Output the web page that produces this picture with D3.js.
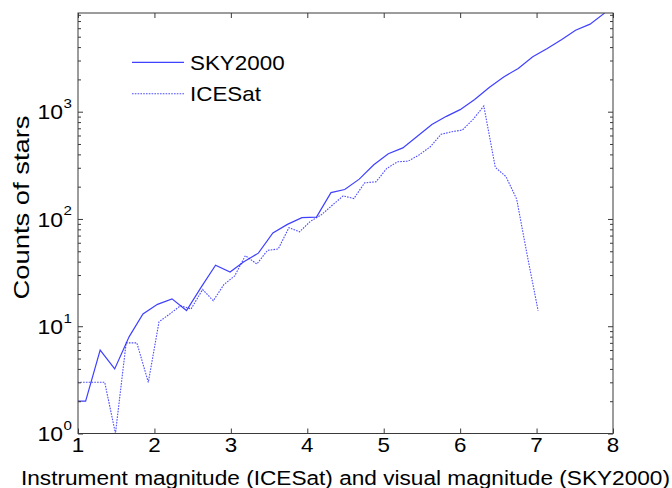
<!DOCTYPE html>
<html>
<head>
<meta charset="utf-8">
<script src="https://cdn.jsdelivr.net/npm/d3@7"></script>
<style>
  html, body { margin: 0; padding: 0; background: #fff; }
  svg { display: block; }
  text { font-family: "Liberation Sans", Arial, Helvetica, sans-serif; fill: #000; }
</style>
</head>
<body>
<svg id="chart" width="672" height="488"></svg>
<script>
// ---- data ----
const skyX = [0.91,1.10,1.29,1.48,1.67,1.85,2.04,2.23,2.42,2.61,2.80,2.99,3.17,3.36,3.55,3.74,3.93,4.12,4.31,4.49,4.68,4.87,5.06,5.25,5.44,5.63,5.82,6.00,6.19,6.38,6.57,6.76,6.95,7.14,7.33,7.51,7.70,7.89];
const skyY = [2,2,6,4,8,13,16,18,14,23,37,32,40,48,74,89,103,104,176,188,235,320,405,460,590,760,905,1045,1300,1680,2110,2530,3250,3890,4720,5750,6550,8300];

const iceX = [0.92,1.06,1.21,1.35,1.49,1.63,1.77,1.92,2.06,2.20,2.34,2.48,2.63,2.77,2.91,3.05,3.19,3.34,3.48,3.62,3.76,3.90,4.04,4.19,4.33,4.47,4.61,4.75,4.90,5.04,5.18,5.32,5.46,5.61,5.75,5.89,6.03,6.17,6.31,6.46,6.60,6.74,6.88,7.02];
const iceY = [3,3,3,3,1,7,7,3,11,13,15.5,14.5,22,17.3,24.5,29.5,45.5,38,51,52.5,83,76,95,110,135,164,155,217,222,296,341,346,394,471,615,650,675,849,1130,303,248,153,45,14];

const seriesNames = ["SKY2000", "ICESat"];
const xTicks = [1,2,3,4,5,6,7,8];
const yTickExponents = [0,1,2,3];
const minorMultipliers = [2,3,4,5,6,7,8,9];
const xLabel = "Instrument magnitude (ICESat) and visual magnitude (SKY2000)";
const yLabel = "Counts of stars";

// ---- layout ----
const L = 78, R = 613, T = 13, B = 433.5;
const yMax = 8318;
const x = d3.scaleLinear().domain([1, 8]).range([L, R]);
const y = d3.scaleLog().domain([1, yMax]).range([B, T]);

const svg = d3.select("#chart");
const axisColor = "#3a3a3a";
const lineColor = "#1f1fff";

svg.append("defs").append("clipPath").attr("id", "plotclip")
  .append("rect").attr("x", L).attr("y", T).attr("width", R - L).attr("height", B - T);

// lines
const line = d3.line().x(d => x(d[0])).y(d => y(d[1]));
const skyData = skyX.map((v, i) => [v, skyY[i]]);
const iceData = iceX.map((v, i) => [v, iceY[i]]);

const g = svg.append("g").attr("clip-path", "url(#plotclip)");
g.append("path").datum(skyData).attr("d", line)
  .attr("fill", "none").attr("stroke", lineColor).attr("stroke-width", 1.2).attr("stroke-opacity", 0.85);
g.append("path").datum(iceData).attr("d", line)
  .attr("fill", "none").attr("stroke", lineColor).attr("stroke-width", 1.1)
  .attr("stroke-dasharray", "1.6,1.2").attr("stroke-opacity", 0.8);

// axes (ticks inward, MATLAB style box)
const minorVals = [];
yTickExponents.forEach(e => minorMultipliers.forEach(m => { const v = m * Math.pow(10, e); if (v <= yMax) minorVals.push(v); }));
const majorVals = yTickExponents.map(e => Math.pow(10, e));

function styleAxis(sel) {
  sel.select(".domain").remove();
  sel.selectAll("line").attr("stroke", axisColor).attr("stroke-width", 1);
  sel.selectAll("text").remove();
}
svg.append("g").attr("transform", `translate(0,${B})`)
  .call(d3.axisBottom(x).tickValues(xTicks).tickSizeInner(-5).tickSizeOuter(0)).call(styleAxis);
svg.append("g").attr("transform", `translate(0,${T})`)
  .call(d3.axisTop(x).tickValues(xTicks).tickSizeInner(-5).tickSizeOuter(0)).call(styleAxis);
svg.append("g").attr("transform", `translate(${L},0)`)
  .call(d3.axisLeft(y).tickValues(majorVals).tickSizeInner(-5).tickSizeOuter(0)).call(styleAxis);
svg.append("g").attr("transform", `translate(${L},0)`)
  .call(d3.axisLeft(y).tickValues(minorVals).tickSizeInner(-3).tickSizeOuter(0)).call(styleAxis);
svg.append("g").attr("transform", `translate(${R},0)`)
  .call(d3.axisRight(y).tickValues(majorVals).tickSizeInner(-5).tickSizeOuter(0)).call(styleAxis);
svg.append("g").attr("transform", `translate(${R},0)`)
  .call(d3.axisRight(y).tickValues(minorVals).tickSizeInner(-3).tickSizeOuter(0)).call(styleAxis);

// box
svg.append("rect").attr("x", L).attr("y", T).attr("width", R - L).attr("height", B - T)
  .attr("fill", "none").attr("stroke", axisColor).attr("stroke-width", 1);

const SX = 1.12; // horizontal stretch of the reference's text

// x tick labels
svg.append("g").selectAll("text").data(xTicks).join("text")
  .attr("transform", d => `translate(${x(d)},452) scale(${SX},1)`)
  .attr("text-anchor", "middle").attr("font-size", 20)
  .text(d => d);

// y tick labels 10^n
const yl = svg.append("g").selectAll("text").data(yTickExponents).join("text")
  .attr("transform", d => `translate(72,${y(Math.pow(10, d)) + 7.8}) scale(${SX},1)`)
  .attr("text-anchor", "end").attr("font-size", 20.5);
yl.append("tspan").text("10");
yl.append("tspan").attr("font-size", 13.5).attr("dy", -11.5).attr("dx", 0.5).text(d => d);

// axis labels
svg.append("text").attr("x", (L + R) / 2).attr("y", 485)
  .attr("text-anchor", "middle").attr("font-size", 20)
  .attr("textLength", 649).attr("lengthAdjust", "spacingAndGlyphs")
  .text(xLabel);
svg.append("text").attr("transform", `translate(28.5,207.5) rotate(-90)`)
  .attr("text-anchor", "middle").attr("font-size", 22)
  .attr("textLength", 184).attr("lengthAdjust", "spacingAndGlyphs")
  .text(yLabel);

// legend
const legY = [62.3, 93.8];
const lg = svg.append("g");
seriesNames.forEach((name, i) => {
  const ln = lg.append("line").attr("x1", 132).attr("x2", 184).attr("y1", legY[i]).attr("y2", legY[i])
    .attr("stroke", lineColor).attr("stroke-width", i ? 1.1 : 1.2).attr("stroke-opacity", i ? 0.8 : 0.85);
  if (i) ln.attr("stroke-dasharray", "1.6,1.2");
  lg.append("text").attr("transform", `translate(190,${legY[i] + 7.3}) scale(${SX},1)`)
    .attr("font-size", 20).text(name);
});
</script>
</body>
</html>
